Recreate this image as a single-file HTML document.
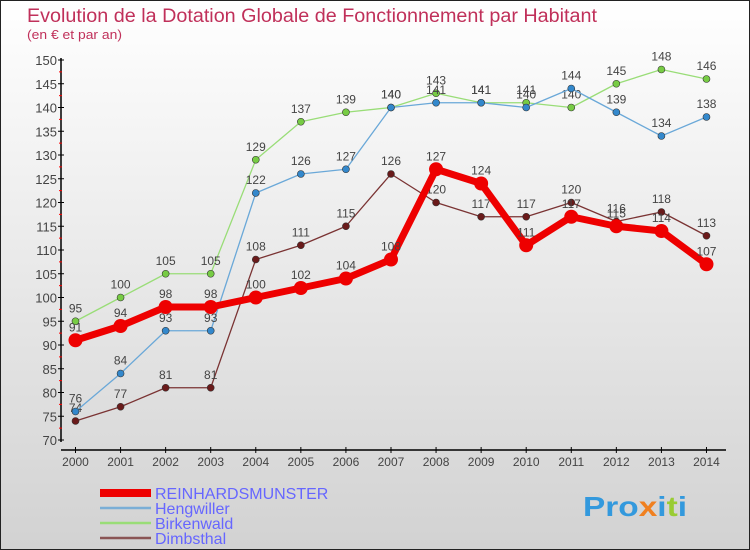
<!DOCTYPE html>
<html><head><meta charset="utf-8"><style>
body{margin:0;width:750px;height:550px;overflow:hidden}
svg{display:block;font-family:"Liberation Sans",sans-serif}
</style></head><body>
<svg id="c" width="750" height="550">
<defs><linearGradient id="bg" x1="0" y1="0" x2="0" y2="1"><stop offset="0" stop-color="#ffffff"/><stop offset="1" stop-color="#d2d2d2"/></linearGradient></defs>
<rect x="0.5" y="0.5" width="749" height="549" fill="url(#bg)" stroke="#222"/>
<text x="27" y="22" font-size="19" fill="#c0305a" textLength="570" lengthAdjust="spacingAndGlyphs">Evolution de la Dotation Globale de Fonctionnement par Habitant</text>
<text x="27" y="39" font-size="13" fill="#c0305a" textLength="95" lengthAdjust="spacingAndGlyphs">(en € et par an)</text>
<g id="axes"></g><g id="series"></g><g id="legend"></g>
</svg>
<script>
const years=[2000,2001,2002,2003,2004,2005,2006,2007,2008,2009,2010,2011,2012,2013,2014];
const reinhardsmunster=[91,94,98,98,100,102,104,108,127,124,111,117,115,114,107];
const hengwiller=[76,84,93,93,122,126,127,140,141,141,140,144,139,134,138];
const birkenwald=[95,100,105,105,129,137,139,140,143,141,141,140,145,148,146];
const dimbsthal=[74,77,81,81,108,111,115,126,120,117,117,120,116,118,113];
const yTicks=[70,75,80,85,90,95,100,105,110,115,120,125,130,135,140,145,150];
const NS="http://www.w3.org/2000/svg";
const X=i=>75.5+i*45.07, Y=v=>440-(v-70)*4.75;
function mk(t,a,p){const e=document.createElementNS(NS,t);for(const k in a)e.setAttribute(k,a[k]);p.appendChild(e);return e;}
const ax=document.getElementById('axes');
let l=mk('line',{x1:61,y1:58,x2:61,y2:442,stroke:'#000','stroke-width':1.5},ax);


l=mk('line',{x1:61,y1:450,x2:726,y2:450,stroke:'#000','stroke-width':1.5},ax);


yTicks.forEach(v=>{
 mk('line',{x1:58,y1:Y(v),x2:64,y2:Y(v),stroke:'#000'},ax);
 if(v<150)mk('line',{x1:59,y1:Y(v+2.5),x2:62,y2:Y(v+2.5),stroke:'#f00'},ax);
 const t=mk('text',{x:57,y:Y(v)+5,'font-size':13,'text-anchor':'end',fill:'#444'},ax);t.textContent=v;
 
 
});
years.forEach((yr,i)=>{
 mk('line',{x1:X(i),y1:447,x2:X(i),y2:453,stroke:'#000'},ax);
 const t=mk('text',{x:X(i),y:466,'font-size':12,'text-anchor':'middle',fill:'#444'},ax);t.textContent=yr;
 
 
});
const sg=document.getElementById('series');
const defs=[
 ['dimbsthal',dimbsthal,'#7a3333','#6a1a1a',1.3,3.5],
 ['birkenwald',birkenwald,'#99dd77','#77cc44',1.3,3.5],
 ['hengwiller',hengwiller,'#6aa8d8','#3388cc',1.3,3.5],
 ['reinhardsmunster',reinhardsmunster,'#ee0000','#ee0000',7,7]];
defs.forEach(([n,d,c,mc,w,r])=>{
 const g=mk('g',{},sg);
 
 
 const p=mk('polyline',{points:d.map((v,i)=>X(i)+','+Y(v)).join(' '),fill:'none',stroke:c,'stroke-width':w,'stroke-linejoin':'round'},g);
 
 
 d.forEach((v,i)=>{
  const m=mk('circle',{cx:X(i),cy:Y(v),r:r,fill:mc,stroke:'#333','stroke-width':n==='reinhardsmunster'?0:0.6},g);
  
  
  const t=mk('text',{x:X(i),y:Y(v)-9,'font-size':12,'text-anchor':'middle',fill:'#444'},g);t.textContent=v;
  
  
 });
});
const lg=document.getElementById('legend');
[['REINHARDSMUNSTER','#ee0000',8],['Hengwiller','#7aaed6',2.5],['Birkenwald','#99dd77',2.5],['Dimbsthal','#8a5555',2.5]].forEach(([n,c,w],i)=>{
 const y=493+i*15;
 const ln=mk('line',{x1:100,y1:y,x2:151,y2:y,stroke:c,'stroke-width':w},lg);
 
 
 const t=mk('text',{x:155,y:y+6,'font-size':16,fill:'#6666ff'},lg);t.textContent=n;
 
 
});
const br=mk('text',{x:583,y:516,'font-size':28,'font-weight':'bold',fill:'#3399dd',textLength:104,lengthAdjust:'spacingAndGlyphs'},lg);
br.innerHTML='Pro<tspan fill="#f08020">x</tspan>i<tspan fill="#99cc33">t</tspan>i';


</script>
</body></html>
